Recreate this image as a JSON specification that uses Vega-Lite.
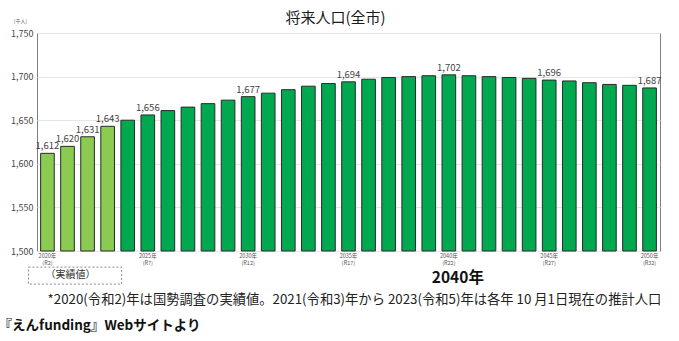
{
  "$schema": "https://vega.github.io/schema/vega-lite/v6.json",
  "autosize": "none",
  "width": 623,
  "height": 218,
  "padding": {"left": 37, "top": 33, "right": 19, "bottom": 90},
  "background": "white",
  "config": {
    "font": "Noto Sans CJK JP",
    "view": {"stroke": "#808080", "strokeWidth": 1},
    "axisX": {
      "labelAngle": 0,
      "labelFontSize": 5.5,
      "labelColor": "#555",
      "labelLineHeight": 7.5,
      "labelPadding": 2,
      "ticks": false,
      "domain": false
    },
    "axisY": {
      "labelFontSize": 9,
      "labelColor": "#444",
      "labelPadding": 4,
      "ticks": false,
      "domain": false,
      "gridColor": "#e6e6e6",
      "titleFontSize": 5,
      "titleFontWeight": "normal",
      "titleColor": "#555",
      "titleAngle": 0,
      "titleAlign": "center",
      "titleBaseline": "middle",
      "titleX": -17,
      "titleY": -13
    }
  },
  "title": {
    "text": "将来人口(全市)",
    "fontSize": 15,
    "fontWeight": "normal",
    "font": "Noto Sans CJK JP",
    "color": "#1a1a1a",
    "anchor": "middle",
    "dx": -13,
    "offset": -8
  },
  "datasets": {
    "pop": [
      {"year": 2020, "value": 1612, "type": "実績", "lab": 1},
      {"year": 2021, "value": 1620, "type": "実績", "lab": 1},
      {"year": 2022, "value": 1631, "type": "実績", "lab": 1},
      {"year": 2023, "value": 1643, "type": "実績", "lab": 1},
      {"year": 2024, "value": 1650, "type": "推計", "lab": 0},
      {"year": 2025, "value": 1656, "type": "推計", "lab": 1},
      {"year": 2026, "value": 1661, "type": "推計", "lab": 0},
      {"year": 2027, "value": 1665, "type": "推計", "lab": 0},
      {"year": 2028, "value": 1669, "type": "推計", "lab": 0},
      {"year": 2029, "value": 1673, "type": "推計", "lab": 0},
      {"year": 2030, "value": 1677, "type": "推計", "lab": 1},
      {"year": 2031, "value": 1681, "type": "推計", "lab": 0},
      {"year": 2032, "value": 1685, "type": "推計", "lab": 0},
      {"year": 2033, "value": 1689, "type": "推計", "lab": 0},
      {"year": 2034, "value": 1692, "type": "推計", "lab": 0},
      {"year": 2035, "value": 1694, "type": "推計", "lab": 1},
      {"year": 2036, "value": 1697, "type": "推計", "lab": 0},
      {"year": 2037, "value": 1699, "type": "推計", "lab": 0},
      {"year": 2038, "value": 1700, "type": "推計", "lab": 0},
      {"year": 2039, "value": 1701, "type": "推計", "lab": 0},
      {"year": 2040, "value": 1702, "type": "推計", "lab": 1},
      {"year": 2041, "value": 1701, "type": "推計", "lab": 0},
      {"year": 2042, "value": 1700, "type": "推計", "lab": 0},
      {"year": 2043, "value": 1699, "type": "推計", "lab": 0},
      {"year": 2044, "value": 1698, "type": "推計", "lab": 0},
      {"year": 2045, "value": 1696, "type": "推計", "lab": 1},
      {"year": 2046, "value": 1695, "type": "推計", "lab": 0},
      {"year": 2047, "value": 1693, "type": "推計", "lab": 0},
      {"year": 2048, "value": 1691, "type": "推計", "lab": 0},
      {"year": 2049, "value": 1690, "type": "推計", "lab": 0},
      {"year": 2050, "value": 1687, "type": "推計", "lab": 1}
    ]
  },
  "layer": [
    {
      "data": {"name": "pop"},
      "mark": {"type": "bar", "stroke": "#2a2a2a", "strokeWidth": 1},
      "encoding": {
        "x": {
          "field": "year",
          "type": "ordinal",
          "scale": {"paddingInner": 0.32, "paddingOuter": 0.18},
          "axis": {
            "title": null,
            "labelExpr": "datum.value % 5 == 0 ? [datum.value + '年', '(R' + (datum.value - 2018) + ')'] : ''"
          }
        },
        "y": {
          "field": "value",
          "type": "quantitative",
          "scale": {"domain": [1500, 1750], "zero": false, "nice": false},
          "axis": {
            "values": [1500, 1550, 1600, 1650, 1700, 1750],
            "labelExpr": "format(datum.value, ',')",
            "title": "(千人)"
          }
        },
        "y2": {"datum": 1500},
        "color": {
          "field": "type",
          "type": "nominal",
          "scale": {"domain": ["実績", "推計"], "range": ["#8CCB52", "#00A84F"]},
          "legend": null
        }
      }
    },
    {
      "data": {"name": "pop"},
      "transform": [{"filter": "datum.lab == 1"}],
      "mark": {"type": "text", "fontSize": 9.5, "color": "#444", "dy": -7},
      "encoding": {
        "x": {"field": "year", "type": "ordinal"},
        "y": {"field": "value", "type": "quantitative"},
        "text": {"field": "value", "type": "quantitative", "format": ","}
      }
    },
    {
      "data": {"values": [{"year": 2020, "year2": 2023, "value": 1481.5, "value2": 1462}]},
      "mark": {"type": "rect", "fill": null, "fillOpacity": 0, "stroke": "#888", "strokeWidth": 1, "strokeDash": [2, 2], "xOffset": -19, "x2Offset": 14},
      "encoding": {
        "x": {"field": "year", "type": "ordinal"},
        "x2": {"field": "year2"},
        "y": {"field": "value", "type": "quantitative"},
        "y2": {"field": "value2"}
      }
    },
    {
      "data": {"values": [{"year": 2021, "value": 1472, "note": "（実績値）"}]},
      "mark": {"type": "text", "fontSize": 10, "color": "#333", "xOffset": 3},
      "encoding": {
        "x": {"field": "year", "type": "ordinal"},
        "y": {"field": "value", "type": "quantitative"},
        "text": {"field": "note"}
      }
    },
    {
      "data": {"values": [{"year": 2040, "value": 1468.5, "note": "2040年"}]},
      "mark": {"type": "text", "fontSize": 15.5, "fontWeight": "bold", "color": "#111", "xOffset": 9},
      "encoding": {
        "x": {"field": "year", "type": "ordinal"},
        "y": {"field": "value", "type": "quantitative"},
        "text": {"field": "note"}
      }
    },
    {
      "data": {"values": [{"year": 2020, "value": 1443.8, "note": "*2020(令和2)年は国勢調査の実績値。2021(令和3)年から 2023(令和5)年は各年 10 月1日現在の推計人口"}]},
      "mark": {"type": "text", "fontSize": 13.3, "color": "#222", "align": "left", "xOffset": 7},
      "encoding": {
        "x": {"field": "year", "type": "ordinal", "bandPosition": 0},
        "y": {"field": "value", "type": "quantitative"},
        "text": {"field": "note"}
      }
    },
    {
      "data": {"values": [{"year": 2020, "value": 1414, "note": "『えんfunding』Webサイトより"}]},
      "mark": {"type": "text", "fontSize": 13.5, "fontWeight": "bold", "color": "#111", "align": "left", "xOffset": -42},
      "encoding": {
        "x": {"field": "year", "type": "ordinal", "bandPosition": 0},
        "y": {"field": "value", "type": "quantitative"},
        "text": {"field": "note"}
      }
    }
  ]
}
